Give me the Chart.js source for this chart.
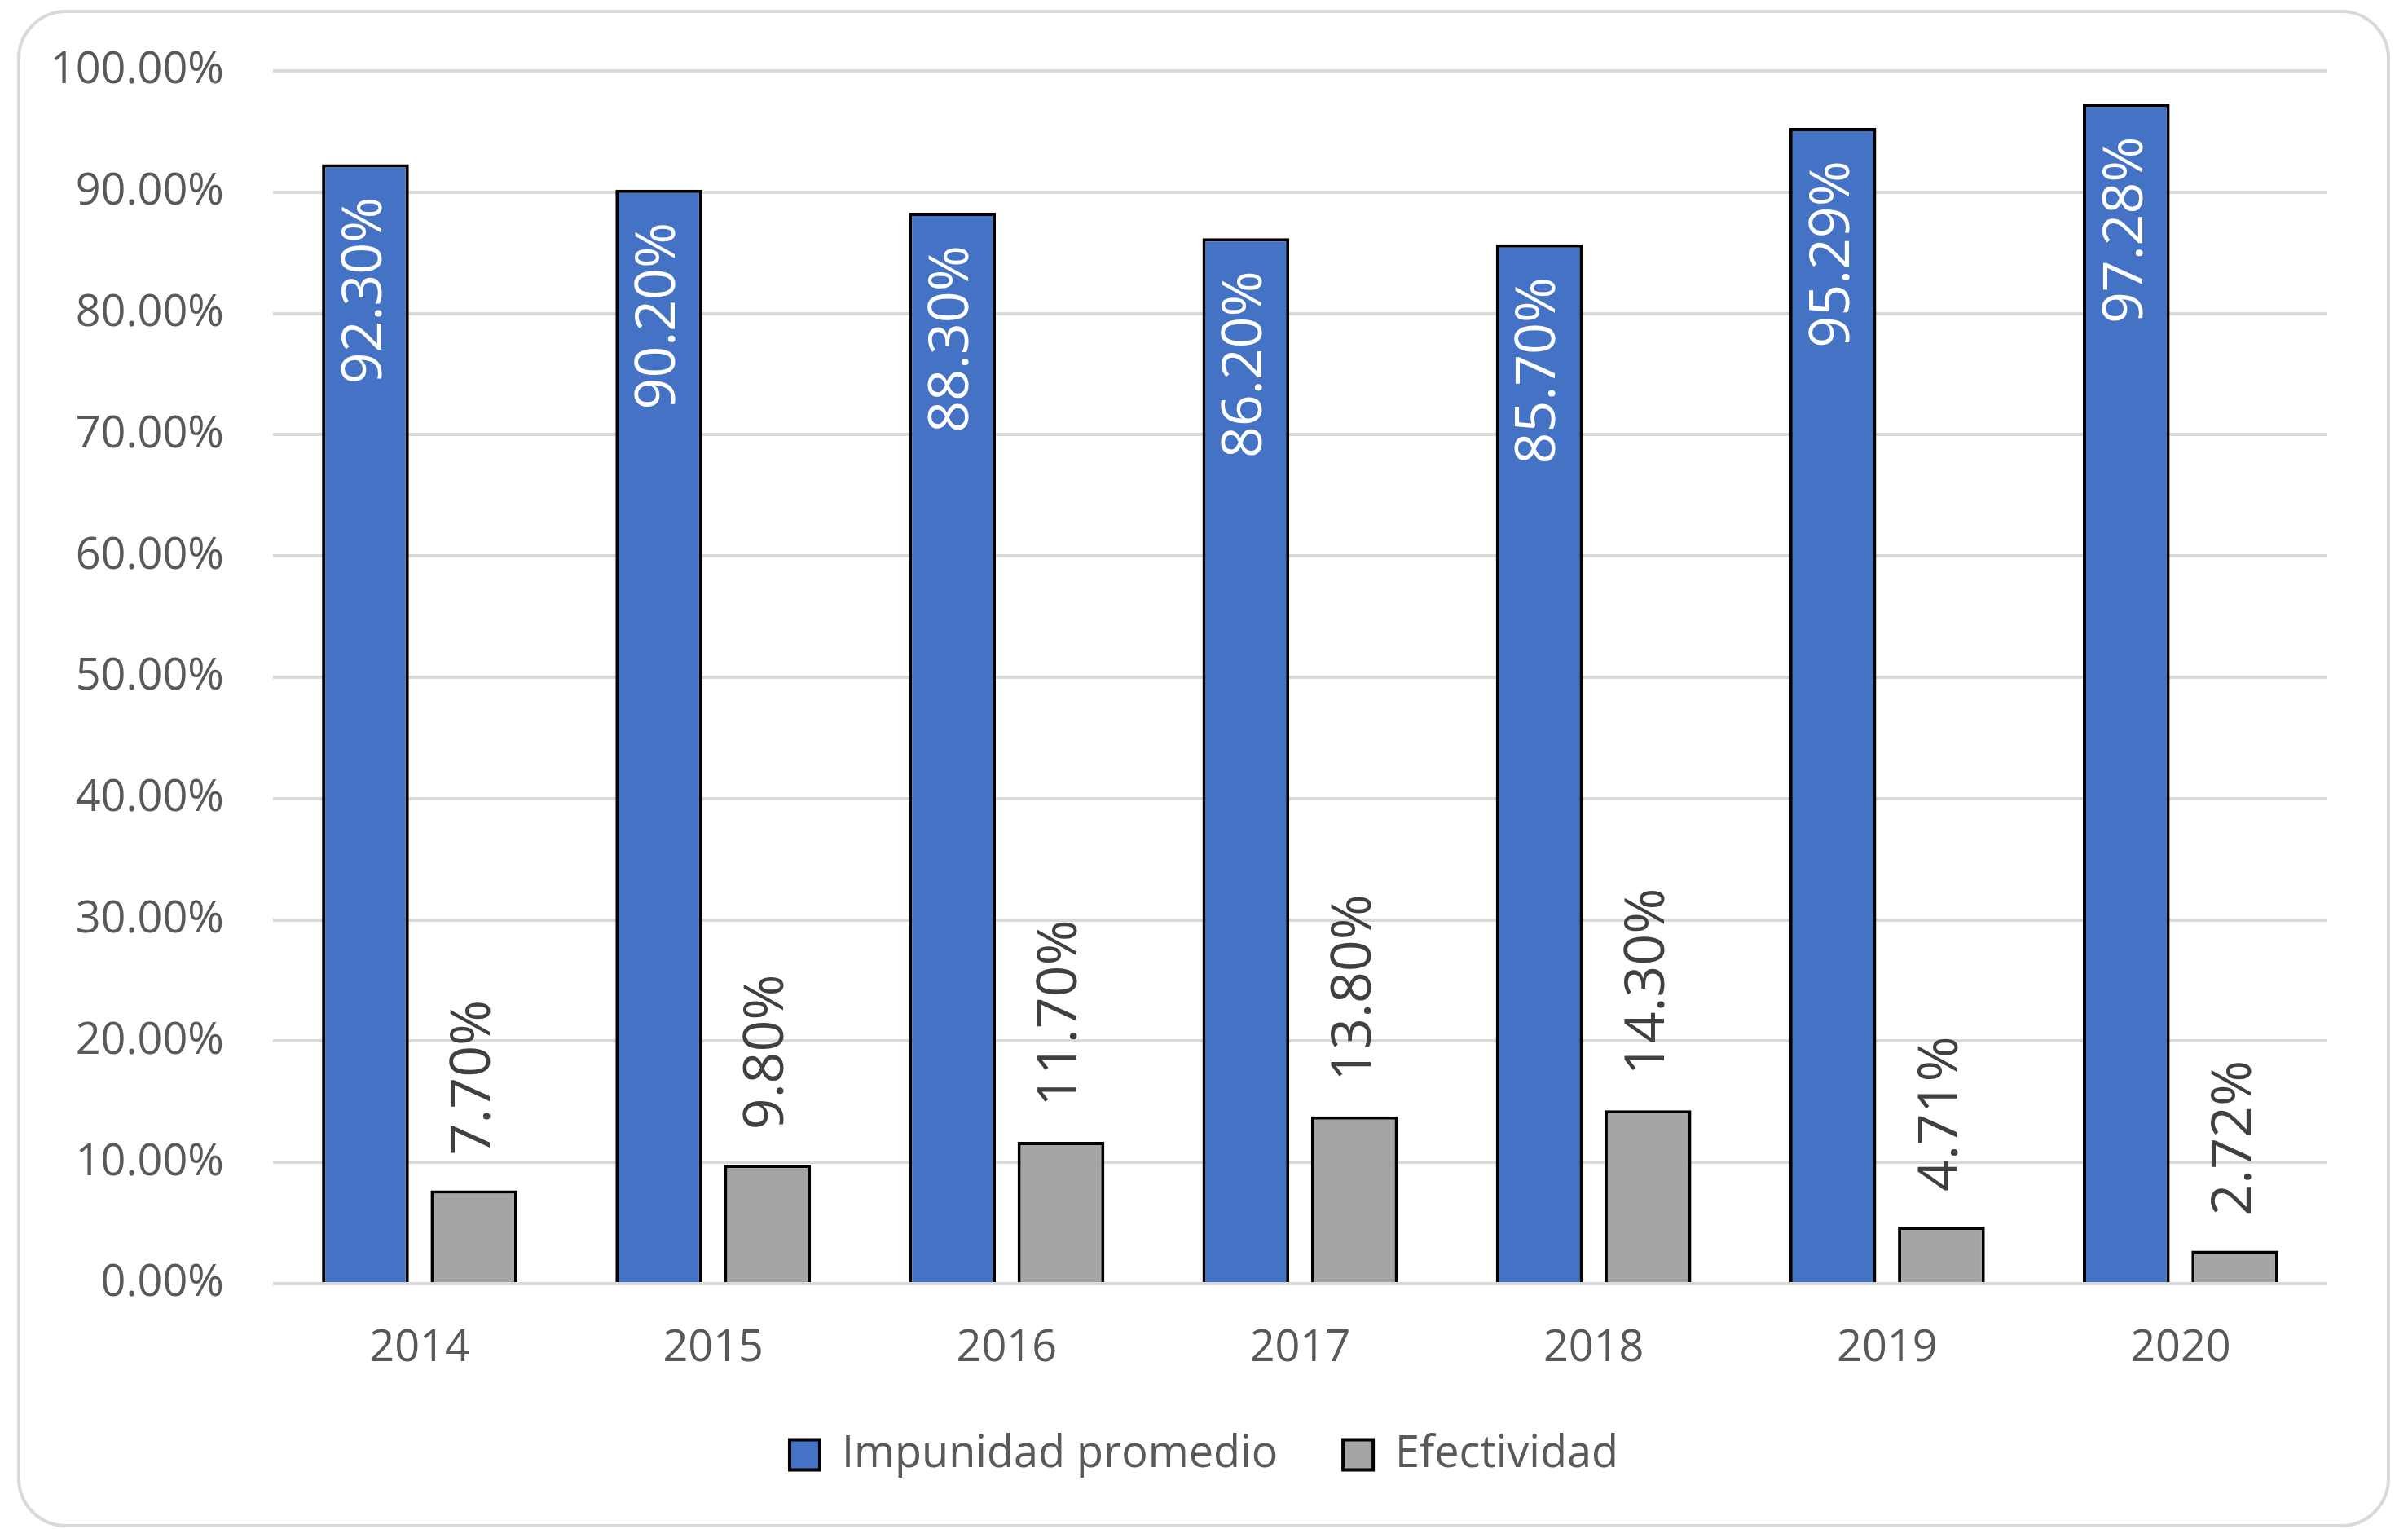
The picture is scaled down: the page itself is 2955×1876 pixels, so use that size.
<!DOCTYPE html>
<html lang="es">
<head>
  <meta charset="UTF-8">
  <title>Impunidad promedio y Efectividad</title>
  <script src="https://cdn.jsdelivr.net/npm/chart.js"></script>
  <style>
    html, body {
      margin: 0;
      padding: 0;
      background: #ffffff;
    }
    #wrap {
      position: relative;
      width: 2955px;
      height: 1876px;
      overflow: hidden;
    }
    #frame {
      position: absolute;
      left: 21px;
      top: 12px;
      width: 2912px;
      height: 1862px;
      box-sizing: border-box;
      border: 4px solid #d9d9d9;
      border-radius: 60px;
    }
    #chart {
      position: absolute;
      left: 0;
      top: 0;
    }
  </style>
</head>
<body>
<div id="wrap">
  <div id="frame"></div>
  <canvas id="chart" width="2955" height="1876"></canvas>
</div>

<script>
  // datos
  const years = ['2014', '2015', '2016', '2017', '2018', '2019', '2020'];
  const impunidad = [92.30, 90.20, 88.30, 86.20, 85.70, 95.29, 97.28];
  const efectividad = [7.70, 9.80, 11.70, 13.80, 14.30, 4.71, 2.72];
  const seriesNames = ['Impunidad promedio', 'Efectividad'];

  const FONT = '"Open Sans", "Noto Sans", sans-serif';

  // etiquetas de datos giradas (no hay plugin datalabels)
  const barLabels = {
    id: 'barLabels',
    afterDatasetsDraw(chart) {
      const ctx = chart.ctx;
      chart.data.datasets.forEach((ds, di) => {
        const meta = chart.getDatasetMeta(di);
        meta.data.forEach((bar, i) => {
          const txt = ds.data[i].toFixed(2) + '%';
          ctx.save();
          ctx.translate(bar.x, di === 0 ? bar.y + 40 : bar.y - 43);
          ctx.rotate(-Math.PI / 2);
          ctx.font = '68px ' + FONT;
          ctx.fillStyle = di === 0 ? '#ffffff' : '#404040';
          ctx.textAlign = di === 0 ? 'right' : 'left';
          ctx.textBaseline = 'middle';
          ctx.fillText(txt, 0, 0);
          ctx.restore();
        });
      });
    }
  };

  const ctx = document.getElementById('chart').getContext('2d');
  new Chart(ctx, {
    type: 'bar',
    data: {
      labels: years,
      datasets: [
        {
          label: seriesNames[0],
          data: impunidad,
          backgroundColor: '#4472c4',
          borderColor: '#000000',
          borderWidth: 4
        },
        {
          label: seriesNames[1],
          data: efectividad,
          backgroundColor: '#a5a5a5',
          borderColor: '#000000',
          borderWidth: 4
        }
      ]
    },
    options: {
      responsive: false,
      animation: false,
      devicePixelRatio: 1,
      datasets: {
        bar: {
          categoryPercentage: 0.74,
          barPercentage: 0.8
        }
      },
      layout: {
        padding: { left: 0, right: 0, top: 87, bottom: 54 }
      },
      scales: {
        x: {
          grid: { display: false },
          border: { display: false },
          ticks: {
            color: '#595959',
            font: { family: FONT, size: 54, lineHeight: 1 },
            padding: 45
          },
          afterFit: (scale) => { scale.height = 103; }
        },
        y: {
          min: 0,
          max: 100,
          grid: { color: '#d9d9d9', lineWidth: 4, drawTicks: false },
          border: { display: false },
          ticks: {
            stepSize: 10,
            color: '#595959',
            font: { family: FONT, size: 54 },
            padding: 60,
            callback: (v) => v.toFixed(2) + '%'
          },
          afterFit: (scale) => {
            scale.width = 335;
            scale.paddingTop = 0;
            scale.paddingBottom = 0;
          }
        },
        // eje vacio a la derecha solo para reservar el margen
        y2: {
          position: 'right',
          grid: { display: false },
          border: { display: false },
          ticks: { display: false },
          afterFit: (scale) => {
            scale.width = 99;
            scale.paddingTop = 0;
            scale.paddingBottom = 0;
          }
        }
      },
      plugins: {
        legend: {
          position: 'bottom',
          labels: {
            color: '#595959',
            font: { family: FONT, size: 54 },
            boxWidth: 37,
            boxHeight: 37,
            padding: 80
          }
        },
        tooltip: { enabled: false }
      }
    },
    plugins: [barLabels]
  });
</script>
</body>
</html>
